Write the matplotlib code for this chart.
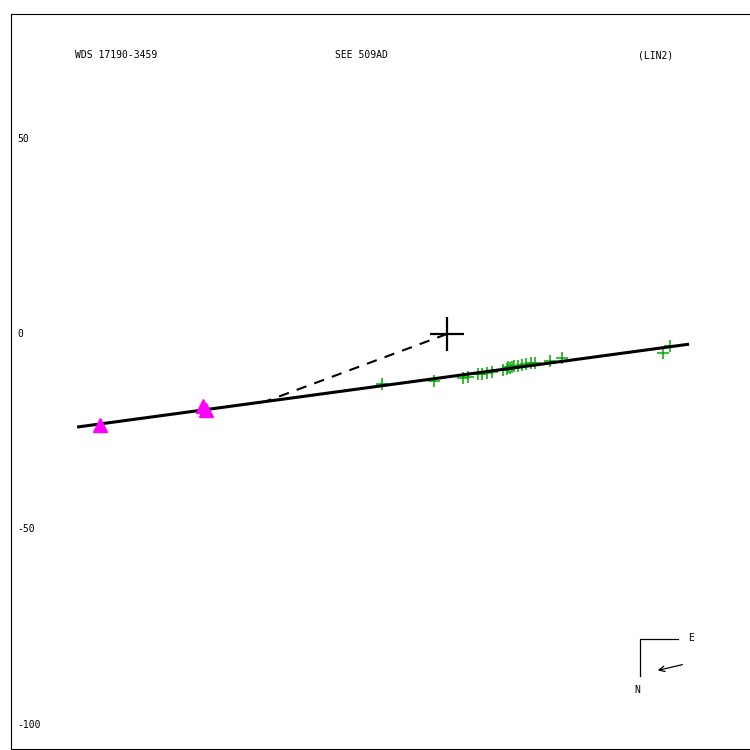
import matplotlib
matplotlib.use('Agg')
import matplotlib.pyplot as plt
import numpy as np

# measured positions (arcsec-like units, origin = primary)
green_x = [-16.7, -3.3, 4.1, 5.4, 7.9, 9.0, 10.2, 11.5, 14.3, 15.3, 15.6, 16.1,
           16.6, 17.1, 18.2, 19.2, 20.2, 21.5, 22.5, 26.3, 29.4, 55.2, 57.0]
green_y = [-12.8, -12.0, -11.3, -11.0, -10.2, -10.2, -10.0, -9.7, -9.2, -9.0, -8.4, -8.7,
           -8.4, -8.2, -8.2, -7.9, -7.7, -7.4, -7.4, -6.9, -6.1, -4.9, -3.1]
tri_x = [-88.7, -62.4, -61.6]
tri_y = [-23.3, -18.4, -19.4]

# linear fit and closest approach
fit_x = [-94.6, 61.9]
fit_y = [-23.8, -2.6]
dash_x = [0.0, -46.5]
dash_y = [0.0, -17.3]

yticks = [50, 0, -50, -100]
header = ['WDS 17190-3459', 'SEE 509AD', '(LIN2)']
header_px = [75, 335, 638]

plt.rcParams['font.family'] = ['DejaVu Sans Mono']

fig = plt.figure(figsize=(7.5, 7.5), dpi=100)
W = 750.
scale = 3.91  # px per unit
ax = fig.add_axes([11/W, 1 - 749/W, 1.0, (749 - 14)/W])
xmin = (11 - 447)/scale
ax.set_xlim(xmin, xmin + 750/scale)
ax.set_ylim((334 - 749)/scale, (334 - 14)/scale)
ax.set_xticks([])
ax.set_yticks([])
for s in ax.spines.values():
    s.set_linewidth(0.8)

ax.plot(fit_x, fit_y, color='black', lw=2.2, solid_capstyle='butt', zorder=3)
ax.plot(dash_x, dash_y, color='black', lw=1.5, ls=(0, (5, 4)), zorder=3)
ax.plot(green_x, green_y, '+', color='#00aa00', ms=8, mew=1.1, zorder=2)
ax.plot(tri_x, tri_y, '^', color='#ff00ff', ms=10, mec='#ff00ff', zorder=4)
ax.plot([0], [0], '+', color='black', ms=25, mew=1.6, zorder=5)

for v in yticks:
    ax.text(6/W, v, str(v), transform=ax.get_yaxis_transform(),
            fontsize=7, va='center', ha='left')

for t, px in zip(header, header_px):
    fig.text(px/W, 1 - 55/W, t, fontsize=7, va='center', ha='left')

# compass
ax.plot([59.1, 49.4, 49.4], [-78.0, -78.0, -87.5], color='black', lw=0.9)
ax.text(61.6, -77.8, 'E', fontsize=7, va='center', ha='left')
ax.text(48.6, -91.0, 'N', fontsize=7, va='center', ha='center')
ax.annotate('', xy=(53.2, -86.2), xytext=(60.9, -84.4),
            arrowprops=dict(arrowstyle='->', lw=0.9, color='black'))

fig.savefig('out.png', dpi=100)
